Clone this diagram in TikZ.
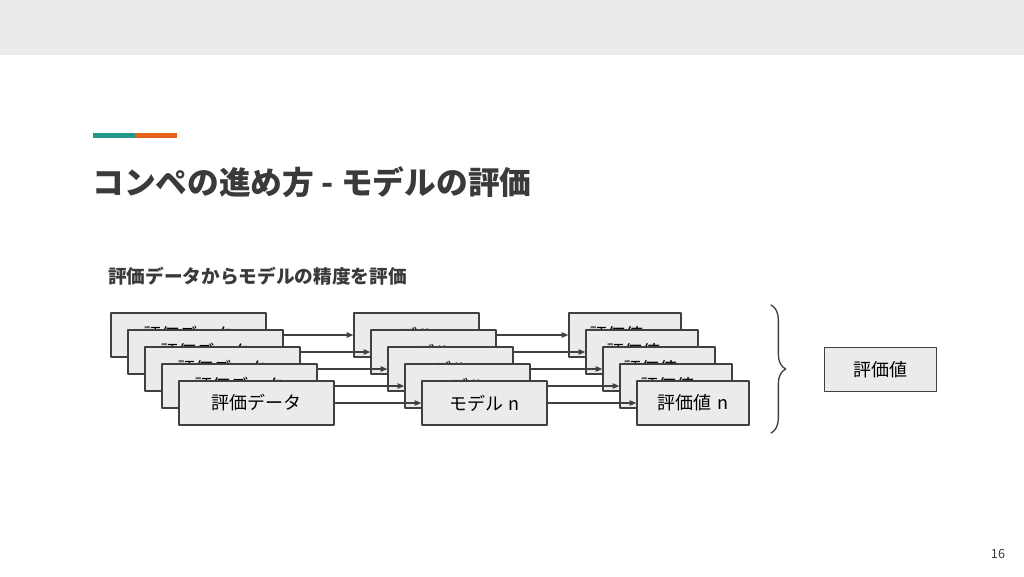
\documentclass[tikz,border=0pt]{standalone}
\usepackage{fontspec}
\newfontfamily\cjk{Noto Sans CJK JP}
\usetikzlibrary{arrows.meta,positioning,decorations.pathreplacing}
\definecolor{ink}{HTML}{3A3A3A}
\definecolor{bandcol}{HTML}{E9EBEC}
\definecolor{boxcol}{HTML}{E9EBEC}
\definecolor{edgecol}{HTML}{404040}
\definecolor{tealcol}{HTML}{22978A}
\definecolor{orangecol}{HTML}{E4621B}

\begin{document}
\begin{tikzpicture}[
  x=0.75pt, y=-0.75pt, font=\cjk, line cap=round, line join=round,
  ttl/.style={font=\cjk\bfseries\fontsize{23.8}{28}\selectfont, text=ink, anchor=west},
  subttl/.style={font=\cjk\bfseries\fontsize{14}{17}\selectfont, text=ink, anchor=west},
  card/.style={draw=edgecol, fill=boxcol, line width=1pt, minimum height=33pt,
    inner sep=0pt, font=\cjk\fontsize{13.5}{16}\selectfont, text=black},
  datbox/.style={card, minimum width=116.25pt},
  mdlbox/.style={card, minimum width=93.75pt},
  valbox/.style={card, minimum width=84pt},
  flow/.style={edgecol, line width=0.9pt, -{Triangle[length=5pt,width=4pt]}},
  tag/.style={font=\cjk\fontsize{9.5}{11}\selectfont, text=ink}]

\useasboundingbox (0,0) rectangle (1024,576);

% ================================================ slide frame
\fill[bandcol] (0,0) rectangle (1024,55);
\fill[tealcol] (93,133) rectangle (135,138);
\fill[orangecol] (135,133) rectangle (177,138);
\node[ttl, inner sep=0pt] (title) at (92,182) {コンペの進め方 - モデルの評価};
\node[subttl, inner sep=0pt] (subtitle) at (108,276) {評価データからモデルの精度を評価};

% ================================================ stacked evaluation runs
\foreach \k in {0,...,4}{
  \pgfmathsetmacro{\dx}{17*\k}
  \node[datbox] (dat\k) at (188.5+\dx,335+\dx) {評価データ};
  \node[mdlbox] (mdl\k) at (416.5+\dx,335+\dx) {モデル\hspace{4pt}n};
  \node[valbox] (val\k) at (625+\dx,335+\dx) {評価値\hspace{4pt}n};
  \draw[flow] (dat\k) -- (mdl\k);
  \draw[flow] (mdl\k) -- (val\k);
}

% ================================================ gather into one score
\coordinate (brtop) at (771,305);
\coordinate (brbot) at (771,433);
\draw[edgecol, line width=1pt, decorate,
  decoration={brace, amplitude=11pt}] (brtop) -- (brbot);
\node[valbox] (score) at (880.5,369.5) {評価値};

% ---------------------------------------------------------------- page no.
\node[tag] (pageno) at (998,554) {16};

\end{tikzpicture}
\end{document}
